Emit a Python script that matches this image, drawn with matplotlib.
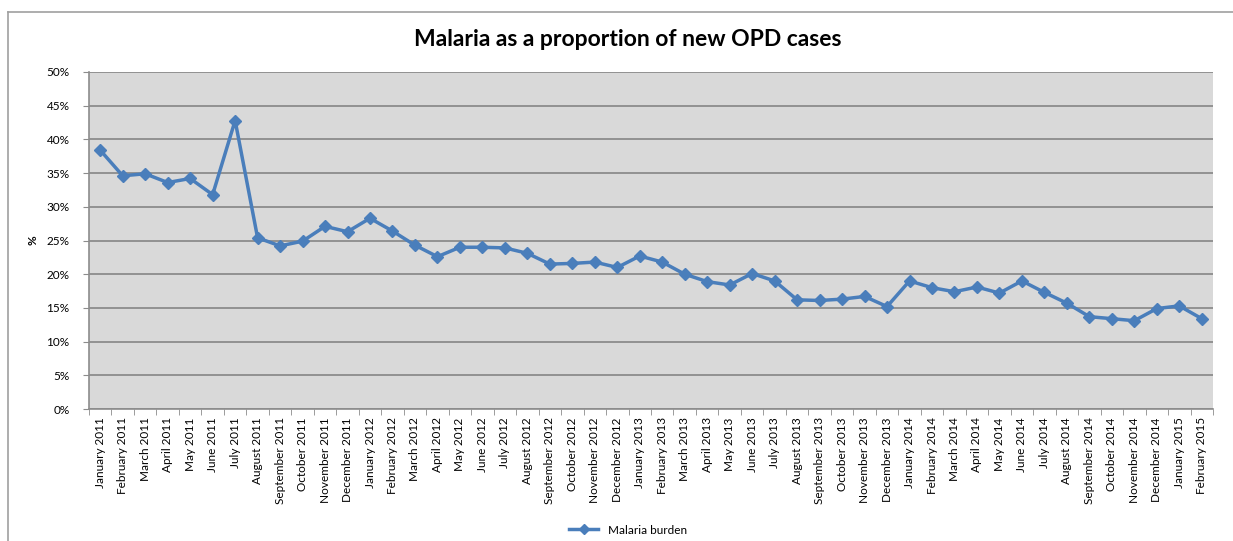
import matplotlib
matplotlib.use("Agg")
import matplotlib.pyplot as plt
from matplotlib.lines import Line2D
from matplotlib.ticker import FuncFormatter, MultipleLocator
import numpy as np

plt.rcParams['font.family'] = ['Lato', 'DejaVu Sans']

# Donnees (en %)
months = ['January', 'February', 'March', 'April', 'May', 'June', 'July',
          'August', 'September', 'October', 'November', 'December']
labels = [f"{m} {y}" for y in (2011, 2012, 2013, 2014) for m in months]
labels += ['January 2015', 'February 2015']

malaria_burden = [
    38.4, 34.6, 34.9, 33.6, 34.2, 31.8, 42.8, 25.4, 24.2, 24.9, 27.1, 26.3,
    28.3, 26.4, 24.3, 22.6, 24.0, 24.0, 23.9, 23.1, 21.5, 21.6, 21.8, 21.0,
    22.7, 21.8, 20.0, 18.9, 18.4, 20.1, 19.0, 16.2, 16.1, 16.3, 16.7, 15.2,
    19.0, 18.0, 17.4, 18.1, 17.2, 19.0, 17.3, 15.7, 13.7, 13.4, 13.1, 14.9,
    15.3, 13.4,
]

fig = plt.figure(figsize=(12.33, 5.41), dpi=100)
ax = fig.add_axes([89 / 1233, 1 - 409 / 541, 1124 / 1233, 337 / 541])

x = np.arange(len(labels))
ax.set_facecolor('#d9d9d9')
ax.plot(x, malaria_burden, color='#4a7ebb', linewidth=2.5, marker='D',
        markersize=6, label='Malaria burden', zorder=3)

ax.set_xlim(-0.5, len(labels) - 0.5)
ax.set_ylim(0, 50)
ax.yaxis.set_major_locator(MultipleLocator(5))
ax.yaxis.set_major_formatter(FuncFormatter(lambda v, p: f"{v:.0f}%"))
ax.grid(axis='y', color='#8c8c8c', linewidth=1.3)
ax.set_axisbelow(True)

ax.set_xticks(x)
ax.set_xticklabels(labels, rotation=90, fontsize=8.5)
ax.set_xticks(np.arange(-0.5, len(labels)), minor=True)
ax.tick_params(axis='x', which='major', length=0, pad=6)
ax.tick_params(axis='x', which='minor', length=4, color='#8c8c8c')
ax.tick_params(axis='y', length=4, color='#8c8c8c', labelsize=8.5, pad=10)

for s in ('top', 'right'):
    ax.spines[s].set_visible(False)
for s in ('left', 'bottom'):
    ax.spines[s].set_color('#8c8c8c')
    ax.spines[s].set_linewidth(1.2)

ax.set_ylabel('%', fontsize=8.5, fontweight='bold', labelpad=6)
fig.text(628 / 1233, 1 - 40 / 541, 'Malaria as a proportion of new OPD cases',
         ha='center', va='center', fontsize=16.5, fontweight='bold')

fig.legend(loc='center', bbox_to_anchor=(628 / 1233, 1 - 530 / 541),
           frameon=False, fontsize=8.5, handlelength=2.5, markerscale=0.8)

# cadre du graphique
fig.add_artist(Line2D([8 / 1233, 1], [1 - 12 / 541] * 2, color='#a0a0a0',
                      linewidth=1.2, transform=fig.transFigure))
fig.add_artist(Line2D([8 / 1233] * 2, [0, 1 - 12 / 541], color='#a0a0a0',
                      linewidth=1.2, transform=fig.transFigure))

fig.savefig('out.png', dpi=100)
